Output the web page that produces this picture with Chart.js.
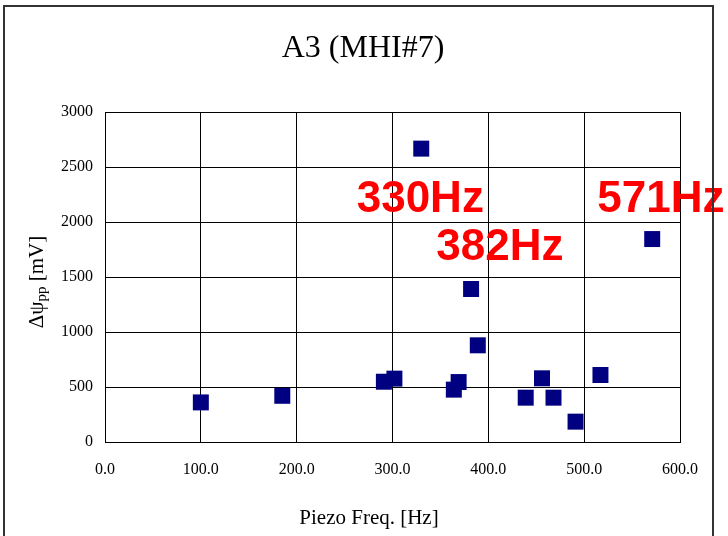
<!DOCTYPE html>
<html>
<head>
<meta charset="utf-8">
<script src="https://cdn.jsdelivr.net/npm/chart.js@4.4.1/dist/chart.umd.min.js"></script>
<style>
  html, body { margin: 0; padding: 0; background: #fff; overflow: hidden; }
  #wrap { position: relative; width: 728px; height: 536px; }
  #frame {
    position: absolute; left: 3px; top: 5px; width: 707px; height: 600px;
    border: 2px solid #333; pointer-events: none;
  }
</style>
</head>
<body>
<div id="wrap">
  <canvas id="chart" width="728" height="536"></canvas>
  <div id="frame"></div>
</div>
<script>
// values
const freqHz = [100, 185, 291, 302, 330, 382, 389, 364, 369, 439, 456, 468, 491, 517, 571];
const deltaPsiPP = [360, 420, 548, 576, 2667, 1391, 879, 476, 545, 403, 579, 403, 185, 609, 1845];

const xTickValues = [0, 100, 200, 300, 400, 500, 600];
const yTickValues = [0, 500, 1000, 1500, 2000, 2500, 3000];

// red peak notes, anchored in data units (x centre, text baseline)
const peakLabels = ['330Hz', '382Hz', '571Hz'];
const peakAnchorX = [329, 412, 580];
const peakAnchorY = [2094, 1655, 2094];

const serif = '"Liberation Serif", "Times New Roman", serif';

// title + axis titles drawn by hand (the y one needs the "pp" subscript)
const textPlugin = {
  id: 'chartTexts',
  afterDraw(chart) {
    const { ctx, chartArea } = chart;
    const big = '21px ' + serif;
    const small = '15px ' + serif;

    ctx.save();
    ctx.fillStyle = '#000';
    ctx.textAlign = 'center';
    ctx.textBaseline = 'alphabetic';
    ctx.font = '32px ' + serif;
    ctx.fillText('A3 (MHI#7)', 363, 57);
    ctx.textBaseline = 'middle';
    ctx.font = big;
    ctx.fillText('Piezo Freq. [Hz]', 369, 518);
    ctx.restore();

    const cy = (chartArea.top + chartArea.bottom) / 2 + 5;
    ctx.save();
    ctx.translate(37, cy);
    ctx.rotate(-Math.PI / 2);
    ctx.fillStyle = '#000';
    ctx.textBaseline = 'middle';
    ctx.textAlign = 'left';
    ctx.font = big;
    const w1 = ctx.measureText('\u0394\u03c8').width;
    const w3 = ctx.measureText(' [mV]').width;
    ctx.font = small;
    const w2 = ctx.measureText('pp').width;
    let x = -(w1 + w2 + w3) / 2;
    ctx.font = big;
    ctx.fillText('\u0394\u03c8', x, 0);
    x += w1;
    ctx.font = small;
    ctx.fillText('pp', x, 5);
    x += w2;
    ctx.font = big;
    ctx.fillText(' [mV]', x, 0);
    ctx.restore();
  }
};

const peakLabelPlugin = {
  id: 'peakLabels',
  afterDatasetsDraw(chart) {
    const { ctx, scales } = chart;
    ctx.save();
    ctx.fillStyle = '#ff0000';
    ctx.font = 'bold 44px "Liberation Sans", Arial, sans-serif';
    ctx.textAlign = 'center';
    ctx.textBaseline = 'alphabetic';
    peakLabels.forEach((txt, i) => {
      ctx.fillText(txt, scales.x.getPixelForValue(peakAnchorX[i]), scales.y.getPixelForValue(peakAnchorY[i]));
    });
    ctx.restore();
  }
};

const plotBoxPlugin = {
  id: 'plotBox',
  beforeDraw(chart) {
    // right/top edges of the plot box
    const { ctx, chartArea: a } = chart;
    ctx.save();
    ctx.strokeStyle = '#000';
    ctx.lineWidth = 1;
    ctx.strokeRect(a.left + 0.5, a.top + 0.5, a.right - a.left, a.bottom - a.top);
    ctx.restore();
  }
};

new Chart(document.getElementById('chart'), {
  type: 'scatter',
  plugins: [textPlugin, peakLabelPlugin, plotBoxPlugin],
  data: {
    datasets: [{
      data: freqHz.map((f, i) => ({ x: f, y: deltaPsiPP[i] })),
      pointStyle: 'rect',
      pointRadius: 11.3,
      pointHoverRadius: 11.3,
      backgroundColor: '#000080',
      borderColor: '#000080',
      borderWidth: 0
    }]
  },
  options: {
    responsive: false,
    animation: false,
    layout: { padding: { left: 0, right: 48, top: 112, bottom: 0 } },
    plugins: {
      legend: { display: false },
      tooltip: { enabled: false },
      title: { display: false }
    },
    scales: {
      x: {
        type: 'linear',
        min: 0,
        max: 600,
        afterBuildTicks: (axis) => { axis.ticks = xTickValues.map(v => ({ value: v })); },
        afterFit: (axis) => { axis.height = 94; },
        grid: { color: '#000', lineWidth: 1, drawTicks: false },
        border: { color: '#000', width: 1 },
        ticks: {
          color: '#000',
          padding: 18,
          maxRotation: 0,
          font: { family: serif, size: 16 },
          callback: (v) => v.toFixed(1)
        }
      },
      y: {
        min: 0,
        max: 3000,
        afterBuildTicks: (axis) => { axis.ticks = yTickValues.map(v => ({ value: v })); },
        afterFit: (axis) => { axis.width = 105; },
        grid: { color: '#000', lineWidth: 1, drawTicks: false },
        border: { color: '#000', width: 1 },
        ticks: {
          color: '#000',
          padding: 12,
          font: { family: serif, size: 16 },
          callback: (v) => String(v)
        }
      }
    }
  }
});
</script>
</body>
</html>
